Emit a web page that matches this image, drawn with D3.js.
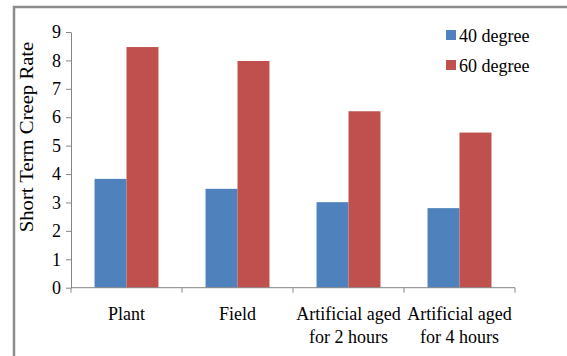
<!DOCTYPE html>
<html>
<head>
<meta charset="utf-8">
<script src="https://cdn.jsdelivr.net/npm/d3@7"></script>
<style>
  body { margin: 0; background: #fff; }
  text { font-family: "Liberation Serif", "Times New Roman", serif; fill: #000; }
</style>
</head>
<body>
<div id="chart"></div>
<script>
var categories = [["Plant"], ["Field"], ["Artificial aged", "for 2 hours"], ["Artificial aged", "for 4 hours"]];
var series = ["40 degree", "60 degree"];
var deg40 = [3.83, 3.48, 3.01, 2.80];
var deg60 = [8.47, 7.98, 6.21, 5.46];
var yTicks = [0, 1, 2, 3, 4, 5, 6, 7, 8, 9];
var colors = ["#4F81BD", "#C0504D"];

var width = 567,
    height = 356,
    plotLeft = 71, plotRight = 515,
    plotTop = 32, plotBottom = 287.7;

var svg = d3.select("#chart").append("svg")
    .attr("width", width)
    .attr("height", height);

// outer frame (only top and left edges show)
svg.append("rect")
    .attr("x", 14).attr("y", 7)
    .attr("width", 700).attr("height", 500)
    .attr("fill", "none")
    .attr("stroke", "#8c8c8c")
    .attr("stroke-width", 2.5);

var x0 = d3.scaleBand()
    .domain(d3.range(categories.length))
    .range([plotLeft, plotRight]);

var x1 = d3.scaleBand()
    .domain(series)
    .range([x0.bandwidth() * 0.212, x0.bandwidth() * 0.788]);

var y = d3.scaleLinear()
    .domain([0, 9])
    .range([plotBottom, plotTop]);

var values = [deg40, deg60];

series.forEach(function(s, si) {
  svg.selectAll(".bar" + si)
    .data(values[si])
    .enter().append("rect")
      .attr("x", function(d, i) { return x0(i) + x1(s); })
      .attr("y", function(d) { return y(d); })
      .attr("width", x1.bandwidth())
      .attr("height", function(d) { return y(0) - y(d); })
      .attr("fill", colors[si]);
});

// y axis
var yAxis = svg.append("g")
    .attr("transform", "translate(" + plotLeft + ",0)")
    .call(d3.axisLeft(y).tickValues(yTicks).tickSize(5).tickPadding(5).tickSizeOuter(0));
yAxis.select(".domain").attr("stroke", "#868686");
yAxis.selectAll(".tick line").attr("stroke", "#868686");
yAxis.selectAll("text").attr("font-size", 18).attr("fill", "#000").attr("font-family", "Liberation Serif");

// x axis line and ticks
svg.append("line")
    .attr("x1", plotLeft).attr("x2", plotRight)
    .attr("y1", y(0)).attr("y2", y(0))
    .attr("stroke", "#868686");
svg.selectAll(".xtick")
    .data(d3.range(categories.length + 1))
    .enter().append("line")
      .attr("x1", function(i) { return plotLeft + i * x0.step(); })
      .attr("x2", function(i) { return plotLeft + i * x0.step(); })
      .attr("y1", y(0)).attr("y2", y(0) + 5)
      .attr("stroke", "#868686");

// category labels
var lab = svg.selectAll(".cat")
    .data(categories)
    .enter().append("text")
      .attr("text-anchor", "middle")
      .attr("font-size", 18)
      .attr("transform", function(d, i) { return "translate(" + (x0(i) + x0.bandwidth() / 2) + ",320)"; });
lab.selectAll("tspan")
    .data(function(d) { return d; })
    .enter().append("tspan")
      .attr("x", 0)
      .attr("y", function(d, i) { return i * 23; })
      .text(function(d) { return d; });

// y title
svg.append("text")
    .attr("transform", "translate(33,137) rotate(-90) scale(1.15,1)")
    .attr("text-anchor", "middle")
    .attr("font-size", 18)
    .text("Short Term Creep Rate");

// legend
var legend = svg.selectAll(".legend")
    .data(series)
    .enter().append("g")
      .attr("transform", function(d, i) { return "translate(446," + (30 + i * 30) + ")"; });
legend.append("rect")
    .attr("width", 10).attr("height", 10)
    .attr("fill", function(d, i) { return colors[i]; });
legend.append("text")
    .attr("x", 13).attr("y", 12)
    .attr("font-size", 18)
    .text(function(d) { return d; });
</script>
</body>
</html>
